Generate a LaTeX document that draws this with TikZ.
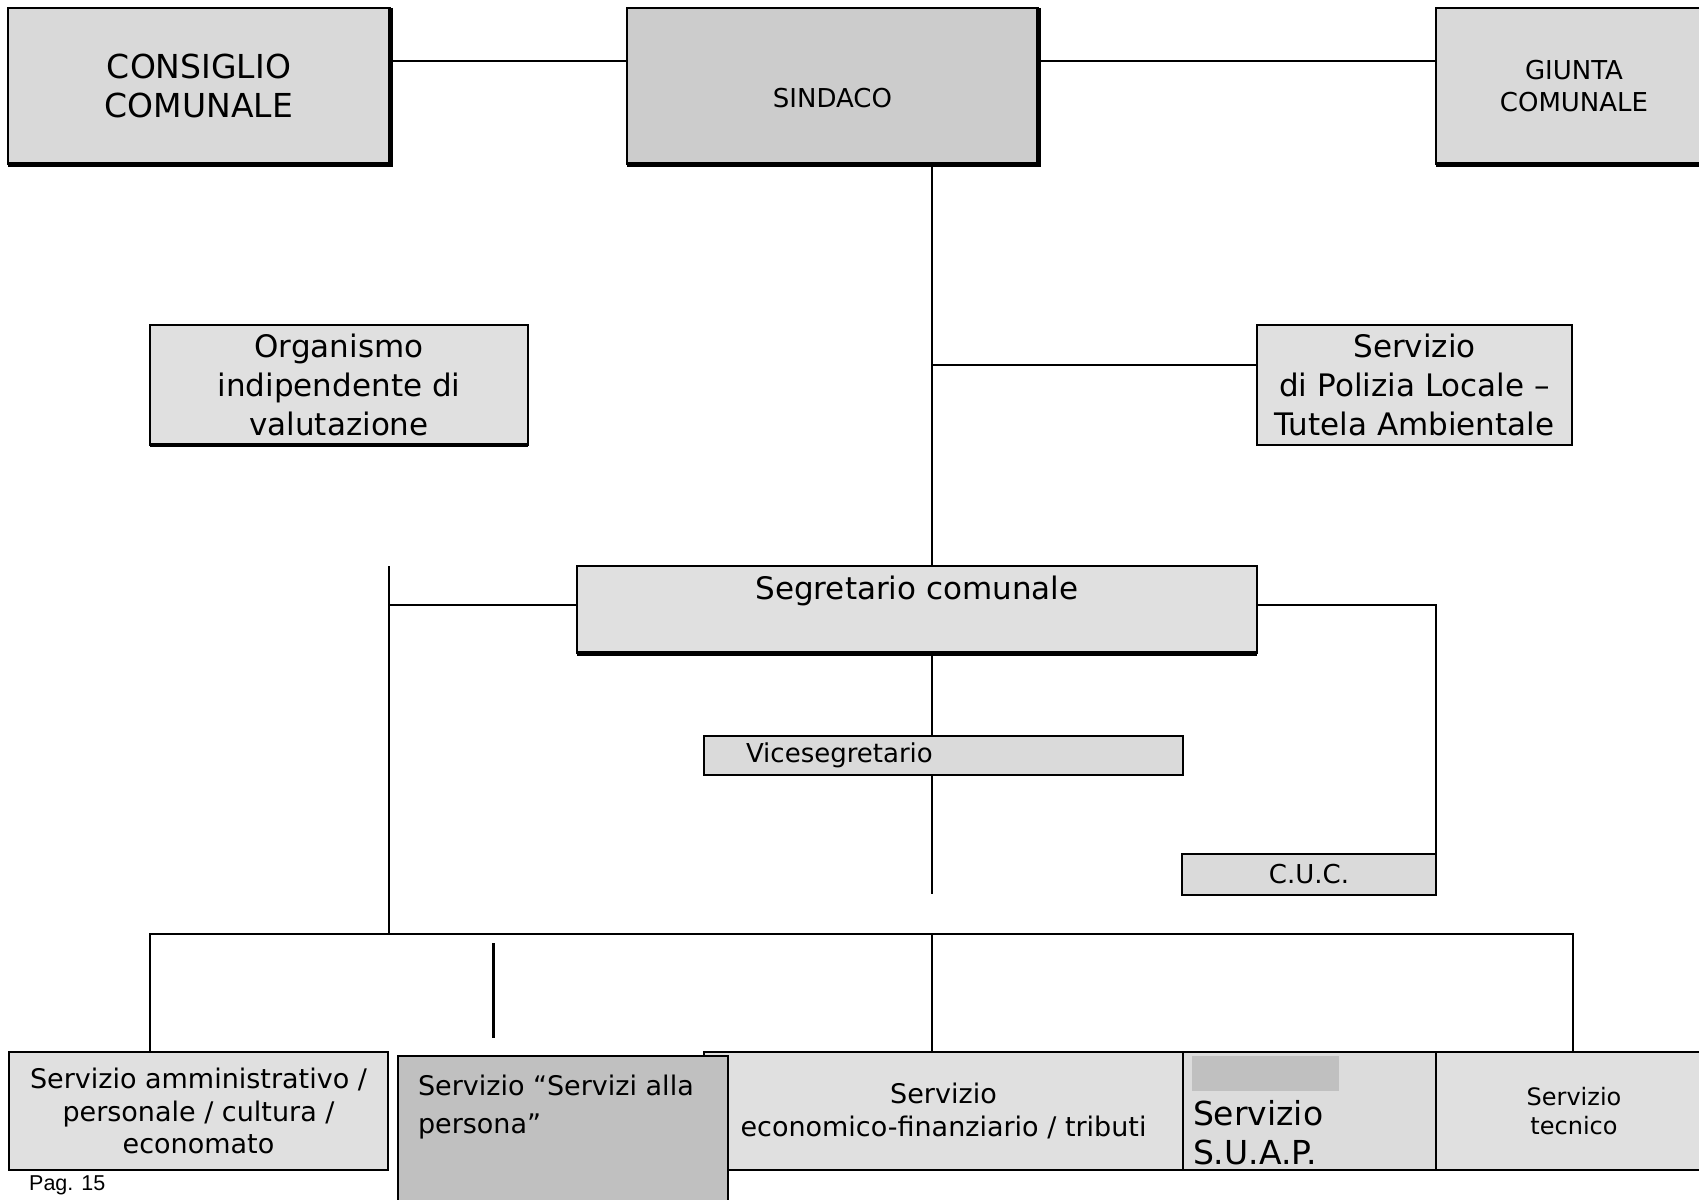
\documentclass[tikz,border=0pt]{standalone}
\usepackage{fontspec}
\setmainfont{DejaVu Sans}
\newfontfamily\pagfont{Liberation Sans}
\usepackage{tikz}
\definecolor{grigiotop}{RGB}{217,217,217}
\definecolor{grigiosind}{RGB}{204,204,204}
\definecolor{grigiochiaro}{RGB}{224,224,224}
\definecolor{grigiomedio}{RGB}{218,218,218}
\definecolor{grigiosuap}{RGB}{220,220,220}
\definecolor{grigioscuro}{RGB}{192,192,192}
\tikzset{
  box/.style={rectangle, draw=black, line width=2.4pt, fill=grigiochiaro,
              inner sep=0pt, outer sep=0pt, anchor=north west, align=center},
  boxtop/.style={box, fill=grigiotop},
  boxmedio/.style={box, fill=grigiomedio},
  boxscuro/.style={box, fill=grigioscuro},
  linea/.style={line width=2.4pt, black},
  ombra/.style={line width=5pt, black},
}
\begin{document}
\begin{tikzpicture}[x=1pt, y=-1pt]
\path[use as bounding box, fill=white] (0,0) rectangle (1699,1199);
\clip (0,0) rectangle (1699,1199);

% vertici
\node[boxtop, minimum width=382pt, minimum height=156pt, font={\fontsize{33}{39}\selectfont}] (cons) at (8,8) {CONSIGLIO\\COMUNALE};
\node[boxtop, fill=grigiosind, minimum width=411pt, minimum height=156pt, text height=42pt, text depth=0pt, font={\fontsize{26}{32}\selectfont}] (sind) at (627,8) {SINDACO};
\node[boxtop, minimum width=276pt, minimum height=156pt, font={\fontsize{26}{32}\selectfont}] (giun) at (1436,8) {GIUNTA\\COMUNALE};

\node[box, minimum width=378pt, minimum height=120pt, font={\fontsize{31}{39}\selectfont}] (org) at (150,325) {Organismo\\indipendente di\\valutazione};
\node[box, minimum width=315pt, minimum height=120pt, font={\fontsize{31}{39}\selectfont}] (pol) at (1257,325) {Servizio\\di Polizia Locale –\\Tutela Ambientale};

\node[box, minimum width=680pt, minimum height=87pt, text height=33.5pt, text depth=53.5pt, font={\fontsize{31}{39}\selectfont}] (segr) at (577,566) {Segretario comunale};
\node[boxmedio, minimum width=479pt, minimum height=39pt, inner xsep=42pt, text width=395pt, align=left, font={\fontsize{26}{32}\selectfont}] (vice) at (704,736) {Vicesegretario};
\node[boxmedio, minimum width=254pt, minimum height=41pt, font={\fontsize{26}{32}\selectfont}] (cuc) at (1182,854) {C.U.C.};

% servizi
\node[box, minimum width=379pt, minimum height=118pt, font={\fontsize{27}{32.5}\selectfont}] (amm) at (9,1052) {Servizio amministrativo /\\personale / cultura /\\economato};
\node[box, minimum width=479pt, minimum height=118pt, font={\fontsize{27}{32.5}\selectfont}] (econ) at (704,1052) {Servizio\\economico-finanziario / tributi};
\node[boxscuro, inner xsep=20pt, font={\fontsize{27}{38}\selectfont}] (pers) at (398,1056)
  {\parbox[c][160pt][t]{290pt}{\raggedright\rule{0pt}{39pt}Servizio “Servizi alla\\persona”}};
\node[box, fill=grigiosuap, inner xsep=10pt, font={\fontsize{33}{39}\selectfont}] (suap) at (1183,1052)
  {\parbox[c][112pt][b]{233pt}{\raggedright Servizio\\S.U.A.P.\rule[-6pt]{0pt}{6pt}}};
\fill[grigioscuro] ([xshift=9pt, yshift=-4pt]suap.north west) rectangle ++(147,35);
\node[box, minimum width=276pt, minimum height=118pt, font={\fontsize{24}{29}\selectfont}] (tecn) at (1436,1052) {Servizio\\tecnico};

\node[anchor=west, inner sep=0pt, font={\pagfont\fontsize{21.5}{24}\selectfont}] (pag) at (29,1185) {Pag. 15};

% ombre
\foreach \n in {cons,sind,giun}
  \draw[ombra] (\n.north east) -- (\n.south east) -- (\n.south west);
\draw[ombra, line width=4pt] (org.south west) -- (org.south east);
\draw[ombra] (segr.south west) -- (segr.south east);

% collegamenti
\coordinate (xamm) at (150,0);
\coordinate (xsx) at (389,0);
\coordinate (asse) at (932,0);
\coordinate (xtec) at (1573,0);
\coordinate (ybus) at (0,934);
\coordinate (fine) at (932,894);
\coordinate (tA) at (493,943);
\coordinate (tB) at (493,1038);

\draw[linea] ([yshift=25pt]cons.east) -- ([yshift=25pt]sind.west);
\draw[linea] ([yshift=25pt]sind.east) -- ([yshift=25pt]giun.west);
\draw[linea] (sind.south -| asse) -- (segr.north -| asse);
\draw[linea] ([yshift=20pt]pol.west) -- ([yshift=20pt]pol.west -| asse);
\coordinate (segrsx) at ([yshift=4.5pt]segr.west);
\coordinate (segrdx) at ([yshift=4.5pt]segr.east);
\draw[linea] (segrsx) -- (segrsx -| xsx);
\draw[linea] (segr.north -| xsx) -- (ybus -| xsx);
\draw[linea] (segrdx) -- (segrdx -| cuc.east) -- (cuc.north east);
\draw[linea] (segr.south -| asse) -- (vice.north -| asse);
\draw[linea] (vice.south -| asse) -- (fine);
\draw[linea] (amm.north -| xamm) -- (ybus -| xamm) -- (ybus -| xtec) -- (tecn.north -| xtec);
\draw[linea] (ybus -| asse) -- (econ.north -| asse);
\draw[linea, line width=3pt] (tA) -- (tB);
\end{tikzpicture}
\end{document}
